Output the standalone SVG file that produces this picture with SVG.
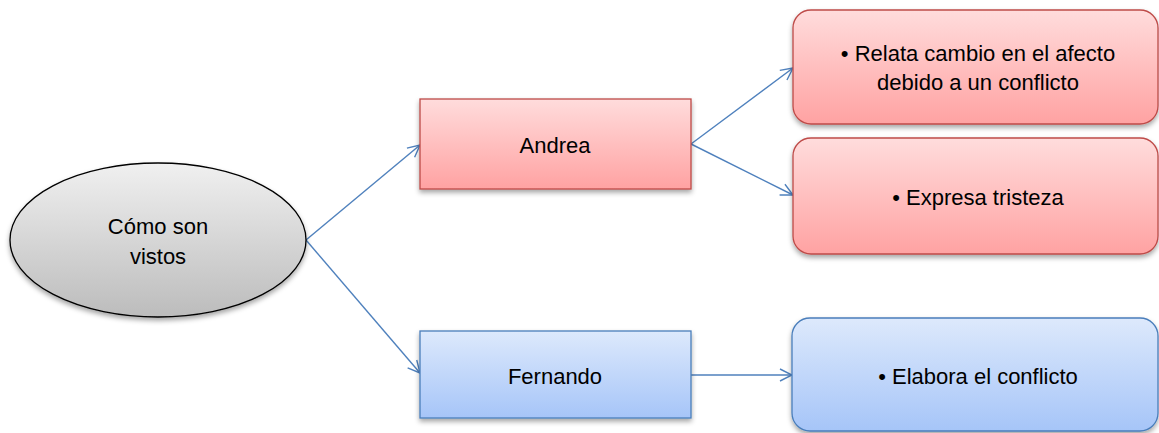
<svg xmlns="http://www.w3.org/2000/svg" width="1159" height="433" viewBox="0 0 1159 433">
<defs>
<linearGradient id="gGray" x1="0" y1="0" x2="0" y2="1"><stop offset="0" stop-color="#f0f0f0"/><stop offset="1" stop-color="#bcbcbc"/></linearGradient>
<linearGradient id="gRed" x1="0" y1="0" x2="0" y2="1"><stop offset="0" stop-color="#ffdcdc"/><stop offset="1" stop-color="#ffa2a2"/></linearGradient>
<linearGradient id="gBlue" x1="0" y1="0" x2="0" y2="1"><stop offset="0" stop-color="#dde9fc"/><stop offset="1" stop-color="#a6c5f8"/></linearGradient>
<filter id="sh" x="-10%" y="-10%" width="120%" height="130%"><feDropShadow dx="0" dy="3" stdDeviation="2.5" flood-color="#000" flood-opacity="0.35"/></filter>
<marker id="arr" viewBox="0 0 14 14" refX="13" refY="7" markerWidth="14" markerHeight="14" markerUnits="userSpaceOnUse" orient="auto"><path d="M1,1 L13,7 L1,13" fill="none" stroke="#4f81bd" stroke-width="1.4"/></marker>
</defs>
<style>
text{font-family:"Liberation Sans",Arial,sans-serif;font-size:22px;fill:#000;text-anchor:middle}
.red{fill:url(#gRed);stroke:#be4b48;stroke-width:1.3;filter:url(#sh)}
.blue{fill:url(#gBlue);stroke:#4a7ebb;stroke-width:1.3;filter:url(#sh)}
.conn{stroke:#4f81bd;stroke-width:1.4;fill:none;marker-end:url(#arr)}
</style>
<rect width="1159" height="433" fill="#fff"/>
<g id="connectors">
<line class="conn" x1="306" y1="240" x2="420" y2="145"/>
<line class="conn" x1="306" y1="240" x2="420" y2="373"/>
<line class="conn" x1="691" y1="144" x2="793" y2="68"/>
<line class="conn" x1="691" y1="144" x2="793" y2="195"/>
<line class="conn" x1="691" y1="375" x2="792" y2="375"/>
</g>
<g id="node-root">
<ellipse cx="158" cy="240" rx="148" ry="77" fill="url(#gGray)" stroke="#000" stroke-width="1.3" filter="url(#sh)"/>
<text x="158" y="234">Cómo son</text>
<text x="158" y="264">vistos</text>
</g>
<g id="node-andrea">
<rect class="red" x="420" y="99" width="271" height="90"/>
<text x="555" y="153">Andrea</text>
</g>
<g id="node-fernando">
<rect class="blue" x="420" y="331" width="271" height="87"/>
<text x="555" y="384">Fernando</text>
</g>
<g id="node-relata">
<rect class="red" x="793" y="10" width="365" height="114" rx="18"/>
<text x="978" y="61">• Relata cambio en el afecto</text>
<text x="978" y="90">debido a un conflicto</text>
</g>
<g id="node-expresa">
<rect class="red" x="793" y="138" width="365" height="116" rx="18"/>
<text x="978" y="205">• Expresa tristeza</text>
</g>
<g id="node-elabora">
<rect class="blue" x="792" y="318" width="366" height="113" rx="18"/>
<text x="978" y="384">• Elabora el conflicto</text>
</g>
</svg>
